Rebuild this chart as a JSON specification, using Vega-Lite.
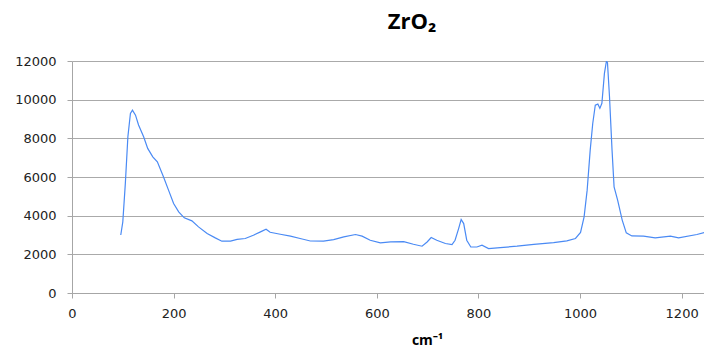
{
  "$schema": "https://vega.github.io/schema/vega-lite/v6.json",
  "width": 632,
  "height": 232,
  "autosize": "none",
  "padding": {"left": 72, "top": 61, "right": 0, "bottom": 56},
  "background": "white",
  "config": {"view": {"stroke": null}},
  "title": {
    "text": "ZrO₂",
    "font": "Open Sans",
    "fontSize": 22,
    "fontWeight": "bold",
    "color": "#000000",
    "anchor": "middle",
    "dx": 24,
    "offset": 21
  },
  "data": {
    "values": [
      {"x": 96, "y": 3000}, {"x": 100, "y": 3680}, {"x": 105, "y": 5670}, {"x": 110, "y": 8080},
      {"x": 115, "y": 9290}, {"x": 119, "y": 9460}, {"x": 125, "y": 9200}, {"x": 131, "y": 8690},
      {"x": 141, "y": 8080}, {"x": 149, "y": 7480}, {"x": 159, "y": 7045}, {"x": 168, "y": 6790},
      {"x": 180, "y": 6010}, {"x": 190, "y": 5320}, {"x": 200, "y": 4630}, {"x": 210, "y": 4200},
      {"x": 221, "y": 3890}, {"x": 236, "y": 3730}, {"x": 249, "y": 3420}, {"x": 266, "y": 3075},
      {"x": 282, "y": 2850}, {"x": 295, "y": 2680}, {"x": 312, "y": 2680}, {"x": 325, "y": 2770},
      {"x": 341, "y": 2820}, {"x": 357, "y": 2990}, {"x": 371, "y": 3160}, {"x": 382, "y": 3300},
      {"x": 390, "y": 3140}, {"x": 410, "y": 3040}, {"x": 430, "y": 2940}, {"x": 449, "y": 2820},
      {"x": 469, "y": 2690}, {"x": 495, "y": 2680}, {"x": 515, "y": 2765}, {"x": 535, "y": 2900},
      {"x": 558, "y": 3025}, {"x": 571, "y": 2940}, {"x": 587, "y": 2730}, {"x": 607, "y": 2590},
      {"x": 627, "y": 2640}, {"x": 653, "y": 2660}, {"x": 672, "y": 2520}, {"x": 689, "y": 2420},
      {"x": 699, "y": 2640}, {"x": 707, "y": 2870}, {"x": 718, "y": 2730}, {"x": 735, "y": 2560},
      {"x": 748, "y": 2500}, {"x": 754, "y": 2730}, {"x": 761, "y": 3330}, {"x": 766, "y": 3800},
      {"x": 771, "y": 3590}, {"x": 777, "y": 2730}, {"x": 785, "y": 2380}, {"x": 797, "y": 2380},
      {"x": 807, "y": 2470}, {"x": 820, "y": 2300}, {"x": 843, "y": 2350}, {"x": 876, "y": 2420},
      {"x": 909, "y": 2520}, {"x": 948, "y": 2610}, {"x": 974, "y": 2700}, {"x": 991, "y": 2820},
      {"x": 1001, "y": 3130}, {"x": 1008, "y": 3940}, {"x": 1014, "y": 5320}, {"x": 1020, "y": 7390},
      {"x": 1025, "y": 8770}, {"x": 1030, "y": 9720}, {"x": 1035, "y": 9770}, {"x": 1039, "y": 9550},
      {"x": 1043, "y": 9810}, {"x": 1048, "y": 11360}, {"x": 1052, "y": 12000}, {"x": 1054, "y": 11910},
      {"x": 1058, "y": 10150}, {"x": 1063, "y": 7390}, {"x": 1067, "y": 5490}, {"x": 1074, "y": 4800},
      {"x": 1083, "y": 3770}, {"x": 1091, "y": 3110}, {"x": 1102, "y": 2950}, {"x": 1125, "y": 2940},
      {"x": 1148, "y": 2850}, {"x": 1178, "y": 2940}, {"x": 1194, "y": 2850}, {"x": 1230, "y": 3025},
      {"x": 1245, "y": 3130}, {"x": 1250, "y": 3150}
    ]
  },
  "mark": {"type": "line", "color": "#4a8af4", "strokeWidth": 1.2, "clip": true},
  "encoding": {
    "x": {
      "field": "x",
      "type": "quantitative",
      "scale": {"domain": [0, 1244], "nice": false, "zero": false},
      "axis": {
        "values": [0, 200, 400, 600, 800, 1000, 1200],
        "format": "d",
        "grid": false,
        "domainColor": "#a6a6a6",
        "tickColor": "#a6a6a6",
        "tickSize": 5,
        "labelFont": "DejaVu Sans",
        "labelFontSize": 13,
        "labelColor": "#222222",
        "labelPadding": 9,
        "labelFlush": false,
        "labelOverlap": false,
        "title": "cm⁻¹",
        "titleFont": "Open Sans",
        "titleFontSize": 14,
        "titleFontWeight": "bold",
        "titleColor": "#000000",
        "titleX": 355,
        "titleY": 51,
        "titleBaseline": "alphabetic"
      }
    },
    "y": {
      "field": "y",
      "type": "quantitative",
      "scale": {"domain": [0, 12000], "nice": false},
      "axis": {
        "values": [0, 2000, 4000, 6000, 8000, 10000, 12000],
        "format": "d",
        "grid": true,
        "gridColor": "#aaaaaa",
        "gridWidth": 1,
        "domainColor": "#a6a6a6",
        "tickColor": "#a6a6a6",
        "tickSize": 5,
        "labelFont": "DejaVu Sans",
        "labelFontSize": 13,
        "labelColor": "#222222",
        "labelPadding": 11,
        "labelFlush": false,
        "labelOverlap": false,
        "title": null
      }
    }
  }
}
